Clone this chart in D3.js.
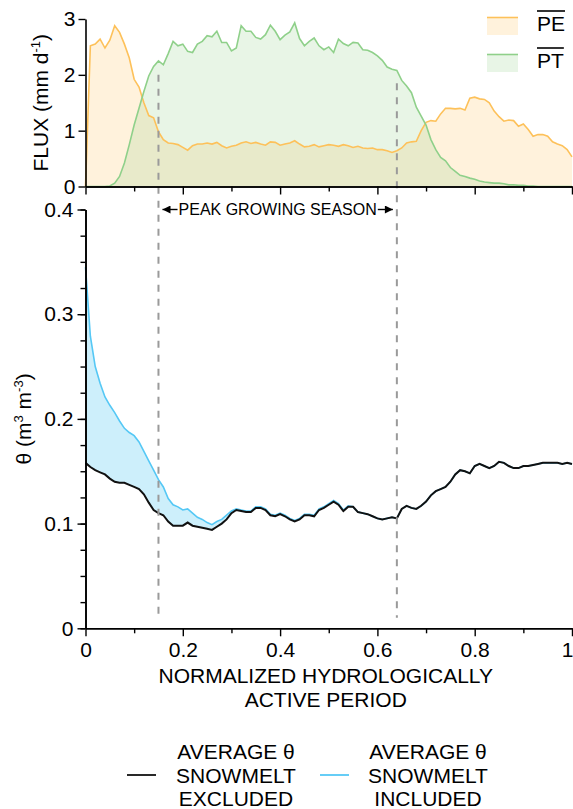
<!DOCTYPE html>
<html>
<head>
<meta charset="utf-8">
<script src="https://cdn.jsdelivr.net/npm/d3@7"></script>
<style>
  body { margin: 0; background: #fff; }
  svg { display: block; font-family: "Liberation Sans", Arial, sans-serif; }
</style>
</head>
<body>
<div id="chart"></div>
<script>
// x grid: normalized hydrologically active period, step 0.01
const period = d3.range(0, 101).map(i => i / 100);

// mean potential evaporation (mm/d)
const pe = [
  0, 2.52, 2.55, 2.64, 2.48, 2.62, 2.88, 2.76, 2.55, 2.30,
  1.92, 1.78, 1.50, 1.27, 1.23, 0.98, 0.84, 0.78, 0.77, 0.75,
  0.70, 0.65, 0.73, 0.76, 0.76, 0.78, 0.76, 0.79, 0.73, 0.69,
  0.72, 0.74, 0.78, 0.80, 0.77, 0.79, 0.76, 0.74, 0.80, 0.79,
  0.74, 0.76, 0.78, 0.82, 0.76, 0.71, 0.72, 0.75, 0.71, 0.73,
  0.75, 0.74, 0.72, 0.75, 0.73, 0.70, 0.72, 0.69, 0.68, 0.69,
  0.66, 0.66, 0.64, 0.61, 0.64, 0.69, 0.78, 0.80, 0.81, 1.00,
  1.15, 1.18, 1.17, 1.30, 1.40, 1.40, 1.39, 1.40, 1.37, 1.58,
  1.60, 1.57, 1.56, 1.50, 1.35, 1.25, 1.17, 1.19, 1.18, 1.08,
  1.12, 1.02, 0.90, 0.93, 0.93, 0.90, 0.80, 0.76, 0.73, 0.66,
  0.53
];

// mean potential transpiration (mm/d)
const pt = [
  0, 0, 0, 0, 0, 0.01, 0.06, 0.18, 0.42, 0.75,
  1.10, 1.40, 1.70, 1.98, 2.15, 2.25, 2.18, 2.38, 2.60, 2.52,
  2.55, 2.42, 2.40, 2.55, 2.60, 2.70, 2.68, 2.78, 2.58, 2.58,
  2.43, 2.48, 2.88, 2.78, 2.78, 2.67, 2.64, 2.72, 2.89, 2.78,
  2.63, 2.71, 2.77, 2.93, 2.65, 2.52, 2.60, 2.66, 2.52, 2.45,
  2.50, 2.40, 2.64, 2.56, 2.52, 2.58, 2.57, 2.45, 2.44, 2.40,
  2.34, 2.26, 2.14, 2.10, 2.08, 1.90, 1.80, 1.68, 1.42, 1.26,
  1.10, 0.84, 0.66, 0.52, 0.46, 0.34, 0.27, 0.20, 0.18, 0.15,
  0.13, 0.10, 0.08, 0.07, 0.06, 0.06, 0.05, 0.03, 0.03, 0.02,
  0.02, 0.01, 0.01, 0, 0, 0, 0, 0, 0, 0,
  0
];

// average soil moisture, snowmelt excluded (m3/m3)
const thetaExcl = [
  0.158, 0.154, 0.151, 0.149, 0.147, 0.143, 0.140, 0.139, 0.139, 0.137,
  0.135, 0.133, 0.128, 0.120, 0.113, 0.110, 0.108, 0.102, 0.098, 0.098,
  0.098, 0.101, 0.098, 0.097, 0.096, 0.095, 0.094, 0.097, 0.100, 0.104,
  0.110, 0.113, 0.112, 0.111, 0.111, 0.115, 0.115, 0.113, 0.108, 0.107,
  0.109, 0.107, 0.104, 0.102, 0.104, 0.108, 0.108, 0.107, 0.113, 0.115,
  0.118, 0.121, 0.118, 0.112, 0.116, 0.116, 0.111, 0.110, 0.109, 0.107,
  0.105, 0.104, 0.105, 0.106, 0.105, 0.114, 0.117, 0.115, 0.114, 0.117,
  0.121, 0.127, 0.131, 0.133, 0.135, 0.140, 0.147, 0.151, 0.150, 0.148,
  0.155, 0.157, 0.155, 0.153, 0.155, 0.159, 0.158, 0.155, 0.153, 0.153,
  0.155, 0.155, 0.156, 0.157, 0.158, 0.158, 0.158, 0.158, 0.157, 0.158,
  0.157
];

// average soil moisture, snowmelt included (m3/m3)
const thetaIncl = [
  0.345, 0.279, 0.250, 0.234, 0.221, 0.213, 0.206, 0.198, 0.191, 0.187,
  0.184, 0.178, 0.169, 0.160, 0.151, 0.142, 0.135, 0.124, 0.118, 0.116,
  0.113, 0.114, 0.110, 0.106, 0.104, 0.101, 0.099, 0.102, 0.104, 0.108,
  0.112, 0.114, 0.113, 0.112, 0.112, 0.116, 0.116, 0.114, 0.109, 0.108,
  0.110, 0.108, 0.105, 0.103, 0.105, 0.109, 0.109, 0.108, 0.114, 0.116,
  0.119, 0.122, 0.119, 0.113, 0.117, 0.116, 0.111, 0.110, 0.109, 0.107,
  0.105, 0.104, 0.105, 0.106, 0.105, 0.114, 0.117, 0.115, 0.114, 0.117,
  0.121, 0.127, 0.131, 0.133, 0.135, 0.140, 0.147, 0.151, 0.150, 0.148,
  0.155, 0.157, 0.155, 0.153, 0.155, 0.159, 0.158, 0.155, 0.153, 0.153,
  0.155, 0.155, 0.156, 0.157, 0.158, 0.158, 0.158, 0.158, 0.157, 0.158,
  0.157
];

// tick values and labels
const xTicks = [0, 0.2, 0.4, 0.6, 0.8, 1];
const xTickLabels = ["0", "0.2", "0.4", "0.6", "0.8", "1"];
const fluxTicks = [0, 1, 2, 3];
const fluxTickLabels = ["0", "1", "2", "3"];
const thetaTicks = [0, 0.1, 0.2, 0.3, 0.4];
const thetaTickLabels = ["0", "0.1", "0.2", "0.3", "0.4"];

// peak growing season bounds and where the dashed markers start (flux units)
const peakBounds = [0.15, 0.64];
const peakMarkerTop = [2.0, 1.85];

// Chart settings
const W = 573, H = 809;
const font = 21;

const svg = d3.select("#chart").append("svg")
  .attr("width", W).attr("height", H);

const x = d3.scaleLinear().domain([0, 1]).range([85.5, 572]);
const yFlux = d3.scaleLinear().domain([0, 3]).range([186.5, 19]);
const yTheta = d3.scaleLinear().domain([0, 0.4]).range([628.3, 209.5]);

const peCol = "#fdc15a", peFill = "rgba(255,190,80,0.2)";
const ptCol = "#8fd08a", ptFill = "rgba(140,205,130,0.2)";
const blue = "#55c8f5", blueFill = "#cdeffb";

// ---- top panel: fluxes
const fluxArea = vals => d3.area()
  .x((d, i) => x(period[i])).y0(yFlux(0)).y1(d => yFlux(d))(vals);
const fluxLine = vals => d3.line()
  .x((d, i) => x(period[i])).y(d => yFlux(d))(vals);

svg.append("path").attr("d", fluxArea(pe)).attr("fill", peFill);
svg.append("path").attr("d", fluxArea(pt)).attr("fill", ptFill);
svg.append("path").attr("d", fluxLine(pe)).attr("fill", "none")
  .attr("stroke", peCol).attr("stroke-width", 1.6);
svg.append("path").attr("d", fluxLine(pt)).attr("fill", "none")
  .attr("stroke", ptCol).attr("stroke-width", 1.6);

// ---- bottom panel: soil moisture
svg.append("path")
  .attr("d", d3.area().x((d, i) => x(period[i]))
    .y0((d, i) => yTheta(thetaExcl[i])).y1(d => yTheta(d))(thetaIncl))
  .attr("fill", blueFill);
svg.append("path")
  .attr("d", d3.line().x((d, i) => x(period[i])).y(d => yTheta(d))(thetaIncl))
  .attr("fill", "none").attr("stroke", blue).attr("stroke-width", 1.6);
svg.append("path")
  .attr("d", d3.line().x((d, i) => x(period[i])).y(d => yTheta(d))(thetaExcl))
  .attr("fill", "none").attr("stroke", "#111").attr("stroke-width", 2);

// ---- dashed peak-season markers
svg.selectAll(".peak").data(peakBounds).join("line")
  .attr("class", "peak")
  .attr("x1", d => x(d)).attr("x2", d => x(d))
  .attr("y1", (d, i) => yFlux(peakMarkerTop[i]))
  .attr("y2", yTheta(0.01))
  .attr("stroke", "#9a9a9a").attr("stroke-width", 2)
  .attr("stroke-dasharray", "7,7");

// ---- axes
function styleAxis(g) {
  g.select(".domain").attr("stroke", "#000").attr("stroke-width", 1.6);
  g.selectAll(".tick line").attr("stroke", "#000").attr("stroke-width", 1.4);
  g.selectAll(".tick text").attr("font-size", font).attr("fill", "#000")
    .attr("font-family", "Liberation Sans, Arial, sans-serif");
}

// top x axis (no labels)
svg.append("g").attr("transform", `translate(0,${yFlux(0)})`)
  .call(d3.axisBottom(x).tickValues(d3.range(1, 10, 2).map(d => d / 10))
    .tickSize(5).tickSizeOuter(0).tickFormat(""))
  .call(styleAxis);
svg.append("g").attr("transform", `translate(0,${yFlux(0)})`)
  .call(d3.axisBottom(x).tickValues(xTicks).tickSize(8).tickSizeOuter(0).tickFormat(""))
  .call(styleAxis);

// top y axis
svg.append("g").attr("transform", `translate(${x(0)},0)`)
  .call(d3.axisLeft(yFlux).tickValues(fluxTicks).tickSize(7).tickSizeOuter(0)
    .tickPadding(3).tickFormat((d, i) => fluxTickLabels[i]))
  .call(styleAxis);

// bottom x axis
svg.append("g").attr("transform", `translate(0,${yTheta(0)})`)
  .call(d3.axisBottom(x).tickValues(d3.range(1, 10, 2).map(d => d / 10))
    .tickSize(5).tickSizeOuter(0).tickFormat(""))
  .call(styleAxis);
const xAxisB = svg.append("g").attr("transform", `translate(0,${yTheta(0)})`)
  .call(d3.axisBottom(x).tickValues(xTicks).tickSize(8).tickSizeOuter(0)
    .tickPadding(6).tickFormat((d, i) => xTickLabels[i]))
  .call(styleAxis);
// last label sits against the right edge
xAxisB.selectAll(".tick text").filter(d => d === 1)
  .attr("text-anchor", "end").attr("dx", 1);

// bottom y axis
svg.append("g").attr("transform", `translate(${x(0)},0)`)
  .call(d3.axisLeft(yTheta).tickValues(d3.range(0, 17).map(d => d * 0.025))
    .tickSize(5).tickSizeOuter(0).tickFormat(""))
  .call(styleAxis);
svg.append("g").attr("transform", `translate(${x(0)},0)`)
  .call(d3.axisLeft(yTheta).tickValues(thetaTicks).tickSize(8).tickSizeOuter(0)
    .tickPadding(4).tickFormat((d, i) => thetaTickLabels[i]))
  .call(styleAxis);

// ---- axis titles
const fluxTitle = svg.append("text")
  .attr("transform", `translate(48,${(yFlux(0) + yFlux(3)) / 2}) rotate(-90)`)
  .attr("text-anchor", "middle").attr("font-size", font);
fluxTitle.append("tspan").text("FLUX (mm d");
fluxTitle.append("tspan").attr("font-size", 13).attr("dy", -8).text("-1");
fluxTitle.append("tspan").attr("dy", 8).text(")");

const thetaTitle = svg.append("text")
  .attr("transform", `translate(31,${(yTheta(0) + yTheta(0.4)) / 2}) rotate(-90)`)
  .attr("text-anchor", "middle").attr("font-size", font);
thetaTitle.append("tspan").text("θ (m");
thetaTitle.append("tspan").attr("font-size", 13).attr("dy", -8).text("3");
thetaTitle.append("tspan").attr("dy", 8).text(" m");
thetaTitle.append("tspan").attr("font-size", 13).attr("dy", -8).text("-3");
thetaTitle.append("tspan").attr("dy", 8).text(")");

const xMid = (x(0) + x(1)) / 2 - 3;
svg.append("text").attr("x", xMid).attr("y", 683)
  .attr("text-anchor", "middle").attr("font-size", font)
  .text("NORMALIZED HYDROLOGICALLY");
svg.append("text").attr("x", xMid).attr("y", 707)
  .attr("text-anchor", "middle").attr("font-size", font)
  .text("ACTIVE PERIOD");

// ---- peak growing season annotation
const defs = svg.append("defs");
defs.append("marker").attr("id", "arrow")
  .attr("viewBox", "0 0 10 10").attr("refX", 10).attr("refY", 5)
  .attr("markerUnits", "userSpaceOnUse")
  .attr("markerWidth", 10).attr("markerHeight", 8)
  .attr("orient", "auto")
  .append("path").attr("d", "M0,0L10,5L0,10Z").attr("fill", "#000");

const annY = yTheta(0.4);
const annMid = (x(peakBounds[0]) + x(peakBounds[1])) / 2;
const ann = svg.append("text").attr("x", annMid).attr("y", annY + 5.6)
  .attr("text-anchor", "middle").attr("font-size", 16)
  .text("PEAK GROWING SEASON");
const annW = ann.node().getComputedTextLength();
svg.append("line")
  .attr("x1", annMid - annW / 2 - 1).attr("x2", x(peakBounds[0]) + 4)
  .attr("y1", annY).attr("y2", annY)
  .attr("stroke", "#000").attr("stroke-width", 1.4).attr("marker-end", "url(#arrow)");
svg.append("line")
  .attr("x1", annMid + annW / 2 + 1).attr("x2", x(peakBounds[1]) - 4)
  .attr("y1", annY).attr("y2", annY)
  .attr("stroke", "#000").attr("stroke-width", 1.4).attr("marker-end", "url(#arrow)");

// ---- top legend
const fluxLegend = [
  { label: "PE", line: peCol, fill: peFill, y: 17 },
  { label: "PT", line: ptCol, fill: ptFill, y: 54 }
];
fluxLegend.forEach(d => {
  svg.append("rect").attr("x", 487).attr("y", d.y).attr("width", 31).attr("height", 18)
    .attr("fill", d.fill);
  svg.append("line").attr("x1", 487).attr("x2", 518).attr("y1", d.y + 0.5).attr("y2", d.y + 0.5)
    .attr("stroke", d.line).attr("stroke-width", 1.6);
  const t = svg.append("text").attr("x", 537).attr("y", d.y + 13.5)
    .attr("font-size", 21).text(d.label);
  const w = t.node().getComputedTextLength();
  svg.append("line").attr("x1", 537).attr("x2", 537 + w)
    .attr("y1", d.y - 6).attr("y2", d.y - 6)
    .attr("stroke", "#000").attr("stroke-width", 1.6);
});

// ---- bottom legend
const thetaLegend = [
  { lines: ["AVERAGE θ", "SNOWMELT", "EXCLUDED"], color: "#111", x0: 127, cx: 236 },
  { lines: ["AVERAGE θ", "SNOWMELT", "INCLUDED"], color: blue, x0: 320, cx: 428 }
];
thetaLegend.forEach(d => {
  svg.append("line").attr("x1", d.x0).attr("x2", d.x0 + 29)
    .attr("y1", 775).attr("y2", 775)
    .attr("stroke", d.color).attr("stroke-width", 1.8);
  d.lines.forEach((s, i) => {
    svg.append("text").attr("x", d.cx).attr("y", 759 + i * 23.5)
      .attr("text-anchor", "middle").attr("font-size", font).text(s);
  });
});
</script>
</body>
</html>
